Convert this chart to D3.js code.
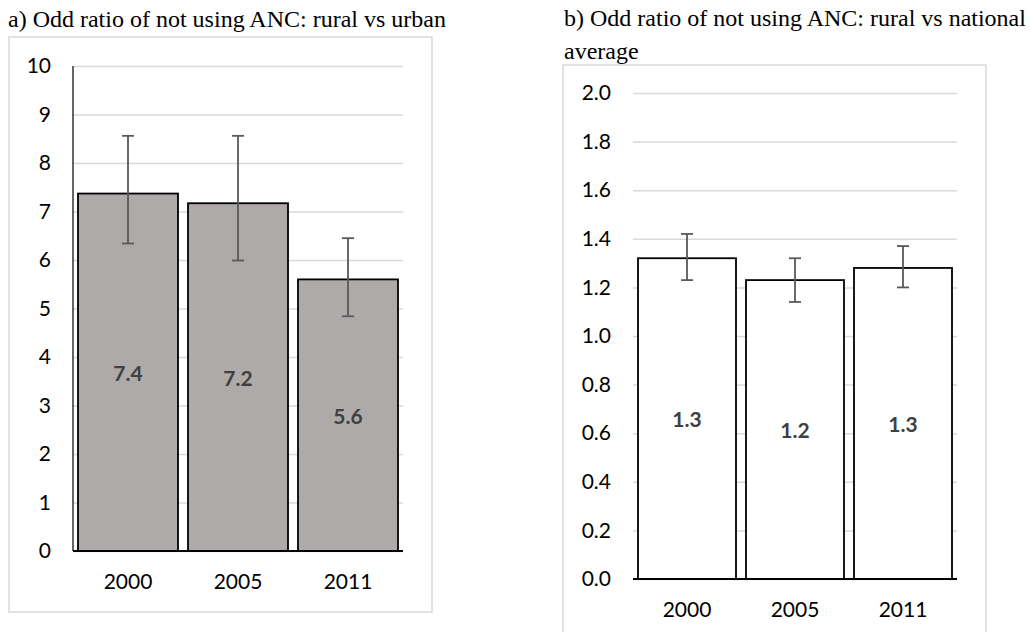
<!DOCTYPE html>
<html>
<head>
<meta charset="utf-8">
<script src="https://cdn.jsdelivr.net/npm/d3@7"></script>
<style>
  html, body { margin: 0; padding: 0; background: #fff; }
  svg { display: block; }
  .title { font-family: "Liberation Serif", "Times New Roman", serif; font-size: 24px; fill: #000; }
  .tick-label { font-family: Lato, "Open Sans", sans-serif; font-size: 21px; fill: #000; }
  .value-label { font-family: Lato, "Open Sans", sans-serif; font-size: 21px; font-weight: bold; fill: #404040; }
</style>
</head>
<body>
<svg id="chart" width="1030" height="632"></svg>
<script>
// Survey years shared by both panels
const years = ["2000", "2005", "2011"];

// Panel a: odds ratio of not using ANC, rural vs urban (with 95% CI)
const ruralUrbanOR   = [7.37, 7.17, 5.60];
const ruralUrbanLow  = [6.34, 5.99, 4.84];
const ruralUrbanHigh = [8.56, 8.56, 6.45];
const ticksA = [0, 1, 2, 3, 4, 5, 6, 7, 8, 9, 10];

// Panel b: odds ratio of not using ANC, rural vs national average (with 95% CI)
const ruralNationalOR   = [1.32, 1.23, 1.28];
const ruralNationalLow  = [1.23, 1.14, 1.20];
const ruralNationalHigh = [1.42, 1.32, 1.37];
const ticksB = [0, 0.2, 0.4, 0.6, 0.8, 1.0, 1.2, 1.4, 1.6, 1.8, 2.0];

const svg = d3.select("#chart");

function drawPanel(opt) {
  const g = svg.append("g");

  // outer chart-area border
  g.append("rect")
    .attr("x", opt.frame[0]).attr("y", opt.frame[1])
    .attr("width", opt.frame[2]).attr("height", opt.frame[3])
    .attr("fill", "none").attr("stroke", "#d9d9d9").attr("stroke-width", 1.5);

  // title (one or more lines)
  const title = g.append("text").attr("class", "title")
    .attr("x", opt.titleX).attr("y", opt.titleY);
  opt.title.forEach((line, i) => {
    title.append("tspan").attr("x", opt.titleX).attr("dy", i === 0 ? 0 : opt.titleLine).text(line);
  });

  const x = d3.scaleBand().domain(years).range(opt.xRange)
    .paddingInner(opt.padInner).paddingOuter(opt.padInner / 2);
  const y = d3.scaleLinear().domain(opt.yDomain).range(opt.yRange);

  // horizontal gridlines
  const yAxis = d3.axisLeft(y).tickValues(opt.ticks).tickFormat(opt.tickFmt)
    .tickSize(-(opt.xRange[1] - opt.xRange[0])).tickPadding(22);
  const ga = g.append("g").attr("transform", `translate(${opt.xRange[0]},0)`).call(yAxis);
  ga.select(".domain").remove();
  ga.selectAll(".tick line").attr("stroke", "#d9d9d9").attr("stroke-width", 1.5);
  ga.selectAll(".tick text").attr("class", "tick-label").attr("font-family", null).attr("font-size", null)
    .attr("fill", null);

  // optional vertical axis line
  if (opt.showYLine) {
    g.append("line")
      .attr("x1", opt.xRange[0]).attr("x2", opt.xRange[0])
      .attr("y1", y(opt.yDomain[1])).attr("y2", y(0))
      .attr("stroke", "#000").attr("stroke-width", 1.2);
  }

  // bars
  g.selectAll("rect.bar").data(opt.values).join("rect")
    .attr("class", "bar")
    .attr("x", (d, i) => x(years[i]))
    .attr("y", d => y(d))
    .attr("width", x.bandwidth())
    .attr("height", d => y(0) - y(d))
    .attr("fill", opt.fill)
    .attr("stroke", "#000").attr("stroke-width", 1.8);

  // baseline
  g.append("line")
    .attr("x1", opt.xRange[0]).attr("x2", opt.xRange[1])
    .attr("y1", y(0)).attr("y2", y(0))
    .attr("stroke", "#000").attr("stroke-width", 1.8);

  // error bars
  const capHalf = 6;
  const eb = g.selectAll("g.err").data(opt.values.map((v, i) => ({
    cx: x(years[i]) + x.bandwidth() / 2, lo: opt.low[i], hi: opt.high[i]
  }))).join("g").attr("class", "err")
    .attr("stroke", "#595959").attr("stroke-width", 1.8);
  eb.append("line").attr("x1", d => d.cx).attr("x2", d => d.cx)
    .attr("y1", d => y(d.lo)).attr("y2", d => y(d.hi));
  eb.append("line").attr("x1", d => d.cx - capHalf).attr("x2", d => d.cx + capHalf)
    .attr("y1", d => y(d.hi)).attr("y2", d => y(d.hi));
  eb.append("line").attr("x1", d => d.cx - capHalf).attr("x2", d => d.cx + capHalf)
    .attr("y1", d => y(d.lo)).attr("y2", d => y(d.lo));

  // value labels centred in each bar
  g.selectAll("text.value-label").data(opt.values).join("text")
    .attr("class", "value-label")
    .attr("x", (d, i) => x(years[i]) + x.bandwidth() / 2)
    .attr("y", d => (y(0) + y(d)) / 2)
    .attr("text-anchor", "middle")
    .attr("dominant-baseline", "central")
    .text(d => d3.format(".1f")(d));

  // category labels
  g.selectAll("text.cat").data(years).join("text")
    .attr("class", "tick-label cat")
    .attr("x", d => x(d) + x.bandwidth() / 2)
    .attr("y", y(0) + 38)
    .attr("text-anchor", "middle")
    .text(d => d);
}

drawPanel({
  frame: [9, 37, 423, 575],
  title: ["a) Odd ratio of not using ANC: rural vs urban"],
  titleX: 8, titleY: 27, titleLine: 33,
  xRange: [73, 403], padInner: 10 / 110,
  yDomain: [0, 10], yRange: [551, 66],
  ticks: ticksA, tickFmt: d3.format("d"),
  showYLine: true,
  values: ruralUrbanOR, low: ruralUrbanLow, high: ruralUrbanHigh,
  fill: "#aeaaaa"
});

drawPanel({
  frame: [563, 65, 423, 600],
  title: ["b) Odd ratio of not using ANC: rural vs national", "average"],
  titleX: 564, titleY: 26, titleLine: 33,
  xRange: [633, 957], padInner: 10 / 108,
  yDomain: [0, 2], yRange: [579, 93],
  ticks: ticksB, tickFmt: d3.format(".1f"),
  showYLine: false,
  values: ruralNationalOR, low: ruralNationalLow, high: ruralNationalHigh,
  fill: "#ffffff"
});
</script>
</body>
</html>
